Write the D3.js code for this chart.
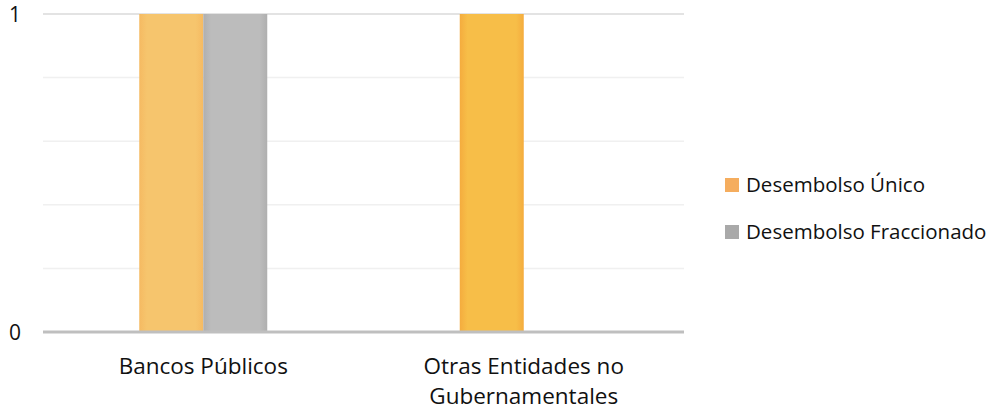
<!DOCTYPE html>
<html>
<head>
<meta charset="utf-8">
<script src="https://cdn.jsdelivr.net/npm/d3@7"></script>
<style>
  html, body { margin: 0; padding: 0; background: #ffffff; }
  svg { display: block; font-family: "Open Sans", sans-serif; }
</style>
</head>
<body>
<svg id="chart" width="988" height="410"></svg>
<script>
// Chart data
const categories = ["Bancos Públicos", "Otras Entidades no Gubernamentales"];
const categoryLines = [["Bancos Públicos"], ["Otras Entidades no", "Gubernamentales"]];
const seriesNames = ["Desembolso Único", "Desembolso Fraccionado"];
const unicoValues = [1, 1];
const fraccionadoValues = [1, 0];
const yTicks = [0, 1];
const gridValues = [0, 0.2, 0.4, 0.6, 0.8, 1];

const svg = d3.select("#chart");
const margin = { left: 43, right: 304, top: 14, bottom: 78 };
const W = 988, H = 410;
const plotW = W - margin.left - margin.right;
const plotH = H - margin.top - margin.bottom;

const defs = svg.append("defs");
// Bar fills: soft darker edges like a subtle inner glow
function edgeGradient(id, edge, mid) {
  const g = defs.append("linearGradient").attr("id", id)
    .attr("x1", "0").attr("x2", "1").attr("y1", "0").attr("y2", "0");
  g.append("stop").attr("offset", "0%").attr("stop-color", edge);
  g.append("stop").attr("offset", "12%").attr("stop-color", mid);
  g.append("stop").attr("offset", "88%").attr("stop-color", mid);
  g.append("stop").attr("offset", "100%").attr("stop-color", edge);
}
edgeGradient("gUnico0", "#F5BA62", "#F6C56D");
edgeGradient("gUnico1", "#F4AC3E", "#F7BE48");
edgeGradient("gFrac", "#AFAFAF", "#BCBCBC");

const x = d3.scaleBand().domain(categories).range([0, plotW]).padding(0);
const y = d3.scaleLinear().domain([0, 1]).range([plotH, 0]);
const barW = 64;

const g = svg.append("g").attr("transform", `translate(${margin.left},${margin.top})`);

// Gridlines
g.append("g").selectAll("line").data(gridValues.filter(v => v > 0)).join("line")
  .attr("x1", 0).attr("x2", plotW)
  .attr("y1", d => y(d)).attr("y2", d => y(d))
  .attr("stroke", d => d === 1 ? "#E3E3E3" : "#F0F0F0")
  .attr("stroke-width", d => d === 1 ? 2 : 1.5);

// Bars
const rows = categories.map((c, i) => ({ c, i, u: unicoValues[i], f: fraccionadoValues[i] }));
const center = d => x(d.c) + x.bandwidth() / 2;

g.append("g").selectAll("rect").data(rows).join("rect")
  .attr("x", d => center(d) - barW)
  .attr("y", d => y(d.u))
  .attr("width", barW)
  .attr("height", d => y(0) - y(d.u))
  .attr("fill", d => `url(#gUnico${d.i})`);

g.append("g").selectAll("rect").data(rows.filter(d => d.f > 0)).join("rect")
  .attr("x", d => center(d))
  .attr("y", d => y(d.f))
  .attr("width", barW)
  .attr("height", d => y(0) - y(d.f))
  .attr("fill", "url(#gFrac)");

// Baseline
g.append("line")
  .attr("x1", 0).attr("x2", plotW)
  .attr("y1", y(0)).attr("y2", y(0))
  .attr("stroke", "#BFBFBF").attr("stroke-width", 3);

// Y axis tick labels
g.append("g").selectAll("text").data(yTicks).join("text")
  .attr("x", -22).attr("y", d => y(d))
  .attr("dy", "0.36em")
  .attr("text-anchor", "end")
  .attr("font-size", 21)
  .attr("fill", "#111")
  .text(d => d);

// Category labels
const catG = g.append("g");
rows.forEach(d => {
  const t = catG.append("text")
    .attr("x", center(d))
    .attr("y", plotH + 42)
    .attr("text-anchor", "middle")
    .attr("font-size", 22.5)
    .attr("fill", "#111");
  categoryLines[d.i].forEach((line, k) => {
    t.append("tspan").attr("x", center(d)).attr("dy", k === 0 ? 0 : 30).text(line);
  });
});

// Legend
const legendColors = ["#F5AD5E", "#A9A9A9"];
const leg = svg.append("g").attr("transform", "translate(725,178)");
seriesNames.forEach((name, i) => {
  const row = leg.append("g").attr("transform", `translate(0,${i * 47})`);
  row.append("rect").attr("width", 14).attr("height", 14).attr("fill", legendColors[i]);
  row.append("text").attr("x", 21).attr("y", 7).attr("dy", "0.36em")
    .attr("font-size", 20.5).attr("fill", "#111").text(name);
});
</script>
</body>
</html>
